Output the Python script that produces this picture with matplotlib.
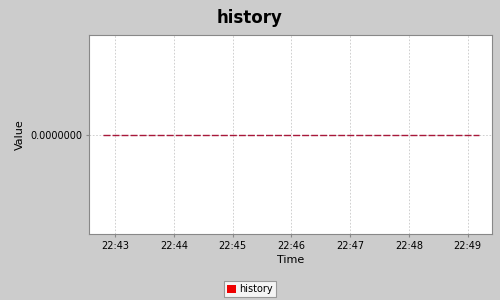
import matplotlib
matplotlib.use("Agg")
import matplotlib.pyplot as plt
import matplotlib.dates as mdates
from matplotlib.patches import Patch
import datetime as dt

# samples every 5 s, value stays at zero
start = dt.datetime(2020, 1, 1, 22, 42, 47)
times = [start + dt.timedelta(seconds=5 * i) for i in range(78)]
values = [0.0] * len(times)
series_name = "history"
tick_labels = ["22:43", "22:44", "22:45", "22:46", "22:47", "22:48", "22:49"]

bg = "#cccccc"
fig = plt.figure(figsize=(5, 3), dpi=100, facecolor=bg)
ax = fig.add_axes([0.178, 0.22, 0.806, 0.663])
ax.set_facecolor("white")

ax.plot(times, values, color="#a8183a", lw=1.0, dashes=(5, 1.5))

ax.set_xlim(dt.datetime(2020, 1, 1, 22, 42, 33), dt.datetime(2020, 1, 1, 22, 49, 25))
ax.set_ylim(-1, 1)
ticks = [dt.datetime(2020, 1, 1, 22, 43 + i) for i in range(len(tick_labels))]
ax.set_xticks(ticks)
ax.set_xticklabels(tick_labels)
ax.set_yticks([0])
ax.set_yticklabels(["0.0000000"])

ax.grid(True, color="#c8c8c8", ls=(0, (2, 2)), lw=0.6)
ax.tick_params(labelsize=7, length=2, color="#888888", pad=3)
for s in ax.spines.values():
    s.set_color("#888888")
    s.set_linewidth(0.8)

ax.set_xlabel("Time", fontsize=8, labelpad=3)
ax.set_ylabel("Value", fontsize=8, labelpad=4)
fig.suptitle("history", fontsize=12, fontweight="bold", y=0.97)

leg = fig.legend(handles=[Patch(facecolor="#ee0000", edgecolor="none", label=series_name)],
                 loc="lower center", bbox_to_anchor=(0.5, 0.0), fontsize=7,
                 frameon=True, fancybox=False, handlelength=0.9, handleheight=0.9,
                 handletextpad=0.4, borderpad=0.3, borderaxespad=0.3)
leg.get_frame().set_edgecolor("#888888")
leg.get_frame().set_facecolor("white")
leg.get_frame().set_linewidth(0.8)

fig.savefig("out.png", dpi=100, facecolor=bg)
